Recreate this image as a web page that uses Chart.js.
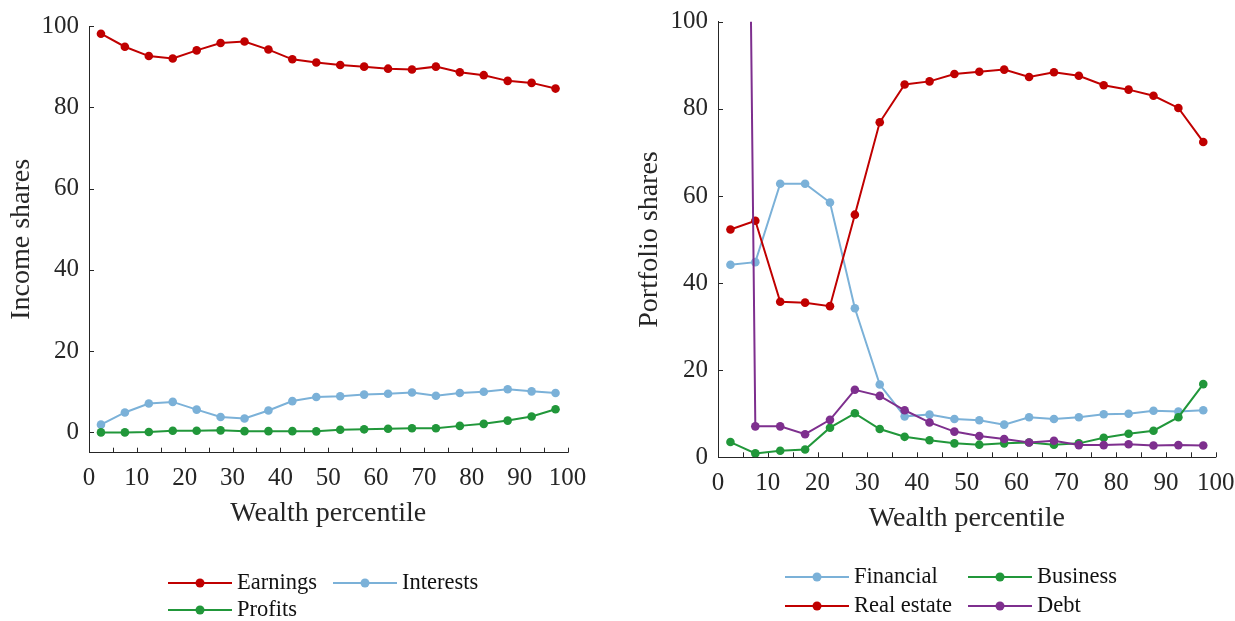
<!DOCTYPE html>
<html>
<head>
<meta charset="utf-8">
<script src="https://cdn.jsdelivr.net/npm/chart.js@4/dist/chart.umd.min.js"></script>
<style>
  html, body { margin: 0; padding: 0; background: #fff; }
  body { width: 1235px; height: 621px; position: relative; overflow: hidden;
         font-family: "Liberation Serif", "Times New Roman", serif; }
  canvas { position: absolute; left: 0; top: 0; }
  .item { position: absolute; white-space: nowrap; font-size: 22.5px; color: #111; line-height: 1; }
  .sw { position: absolute; height: 2px; }
  .sw i { position: absolute; left: 50%; top: 50%; width: 9px; height: 9px; border-radius: 50%;
          transform: translate(-50%, -50%); }
  .lbl { position: absolute; transform: translateY(-52%); }
</style>
</head>
<body>
<canvas id="income" width="1235" height="621"></canvas>
<canvas id="portfolio" width="1235" height="621"></canvas>
<div id="legends"></div>
<script>
// Wealth percentile bins (mid-points of 5% groups)
const percentiles = [2.5, 7.5, 12.5, 17.5, 22.5, 27.5, 32.5, 37.5, 42.5, 47.5,
                     52.5, 57.5, 62.5, 67.5, 72.5, 77.5, 82.5, 87.5, 92.5, 97.5];

// Income composition (%)
const earnings  = [98.1, 94.9, 92.6, 92.0, 94.0, 95.8, 96.2, 94.2, 91.8, 91.0,
                   90.4, 90.0, 89.5, 89.3, 90.0, 88.6, 87.9, 86.5, 86.0, 84.6];
const interests = [1.9, 4.9, 7.1, 7.5, 5.6, 3.8, 3.4, 5.4, 7.7, 8.7,
                   8.9, 9.3, 9.5, 9.8, 9.0, 9.7, 10.0, 10.6, 10.1, 9.7];
const profits   = [0.0, 0.0, 0.1, 0.4, 0.4, 0.5, 0.3, 0.3, 0.3, 0.25,
                   0.65, 0.75, 0.9, 1.0, 1.0, 1.6, 2.1, 2.9, 3.9, 5.7];

// Portfolio composition (%)
const financial  = [44.2, 44.8, 62.8, 62.8, 58.5, 34.2, 16.7, 9.4, 9.8, 8.8,
                    8.5, 7.5, 9.2, 8.8, 9.2, 9.9, 10.0, 10.7, 10.5, 10.8];
const realEstate = [52.3, 54.3, 35.7, 35.5, 34.7, 55.7, 76.9, 85.6, 86.3, 88.0,
                    88.5, 89.0, 87.3, 88.4, 87.6, 85.4, 84.4, 83.0, 80.2, 72.4];
const business   = [3.5, 0.9, 1.5, 1.8, 6.8, 10.1, 6.5, 4.7, 3.9, 3.2,
                    2.9, 3.2, 3.4, 2.9, 3.2, 4.5, 5.4, 6.1, 9.2, 16.8];
const debt       = [540, 7.1, 7.1, 5.3, 8.6, 15.5, 14.1, 10.8, 8.0, 5.9,
                    4.9, 4.2, 3.4, 3.8, 2.8, 2.8, 3.0, 2.7, 2.8, 2.7];

// Tick values
const xTicks = [0, 5, 10, 15, 20, 25, 30, 35, 40, 45, 50, 55, 60, 65, 70, 75, 80, 85, 90, 95, 100];
const yTicks = [0, 20, 40, 60, 80, 100];

const RED = '#c00000', BLUE = '#7bb1d8', GREEN = '#21973a', PURPLE = '#7e2f8e';
const AXIS = '#262626';
const FONT = '"Liberation Serif", "Times New Roman", serif';

const incomeSeries = [
  { label: 'Earnings',  data: earnings,  color: RED },
  { label: 'Interests', data: interests, color: BLUE },
  { label: 'Profits',   data: profits,   color: GREEN }
];
const portfolioSeries = [
  { label: 'Financial',   data: financial,  color: BLUE },
  { label: 'Business',    data: business,   color: GREEN },
  { label: 'Real estate', data: realEstate, color: RED },
  { label: 'Debt',        data: debt,       color: PURPLE }
];

// Short tick marks pointing into the plot area
const inwardTicks = {
  id: 'inwardTicks',
  beforeDatasetsDraw(chart) {
    const { ctx, chartArea, scales: { x, y } } = chart;
    const len = 5;
    ctx.save();
    ctx.strokeStyle = AXIS;
    ctx.lineWidth = 1;
    ctx.beginPath();
    x.ticks.forEach(t => {
      const px = Math.round(x.getPixelForValue(t.value)) + 0.5;
      ctx.moveTo(px, chartArea.bottom);
      ctx.lineTo(px, chartArea.bottom - len);
    });
    y.ticks.forEach(t => {
      const py = Math.round(y.getPixelForValue(t.value)) + 0.5;
      ctx.moveTo(chartArea.left, py);
      ctx.lineTo(chartArea.left + len, py);
    });
    ctx.stroke();
    ctx.restore();
  }
};

function makeChart(id, series, frame, yMin, yTitle) {
  const datasets = series.map((s, i) => ({
    label: s.label,
    data: percentiles.map((p, k) => ({ x: p, y: s.data[k] })),
    borderColor: s.color,
    backgroundColor: s.color,
    borderWidth: 2,
    pointRadius: 4.3,
    pointBorderWidth: 0,
    pointBackgroundColor: s.color,
    tension: 0,
    order: series.length - i
  }));
  return new Chart(document.getElementById(id), {
    type: 'line',
    data: { datasets },
    options: {
      responsive: false,
      animation: false,
      devicePixelRatio: 1,
      events: [],
      layout: { padding: frame.padding },
      plugins: { legend: { display: false }, tooltip: { enabled: false } },
      scales: {
        x: {
          type: 'linear', min: 0, max: 100,
          grid: { display: false, drawTicks: false },
          border: { display: true, color: AXIS, width: 1 },
          afterBuildTicks: s => { s.ticks = xTicks.map(v => ({ value: v })); },
          afterFit: s => { s.height = 78; s.paddingLeft = 0; s.paddingRight = 0; },
          ticks: {
            autoSkip: false, maxRotation: 0, padding: 11, color: AXIS,
            font: { family: FONT, size: 25 },
            callback: v => (v % 10 === 0 ? String(v) : '')
          },
          title: {
            display: true, text: 'Wealth percentile', color: AXIS,
            font: { family: FONT, size: 28 }, padding: { top: 0, bottom: 0 }
          }
        },
        y: {
          type: 'linear', min: yMin, max: 100,
          grid: { display: false, drawTicks: false },
          border: { display: true, color: AXIS, width: 1 },
          afterBuildTicks: s => { s.ticks = yTicks.map(v => ({ value: v })); },
          afterFit: s => { s.width = frame.yWidth; s.paddingTop = 0; s.paddingBottom = 0; },
          ticks: { padding: 10, color: AXIS, font: { family: FONT, size: 25 } },
          title: {
            display: true, text: yTitle, color: AXIS,
            font: { family: FONT, size: 28 }, padding: { top: frame.titlePad, bottom: 0 }
          }
        }
      }
    },
    plugins: [inwardTicks]
  });
}

makeChart('income', incomeSeries, {
  padding: { left: 0, top: 26, right: 667.5, bottom: 90.3 },
  yWidth: 89, titlePad: 5
}, -5, 'Income shares');

makeChart('portfolio', portfolioSeries, {
  padding: { left: 620, top: 21.7, right: 19.3, bottom: 85.7 },
  yWidth: 98, titlePad: 13
}, 0, 'Portfolio shares');

// Legends below each panel
const legendItems = [
  { s: incomeSeries[0],    x: 168, y: 583, tx: 237 },
  { s: incomeSeries[1],    x: 333, y: 583, tx: 402 },
  { s: incomeSeries[2],    x: 168, y: 610, tx: 237 },
  { s: portfolioSeries[0], x: 785, y: 577, tx: 854 },
  { s: portfolioSeries[1], x: 968, y: 577, tx: 1037 },
  { s: portfolioSeries[2], x: 785, y: 606, tx: 854 },
  { s: portfolioSeries[3], x: 968, y: 606, tx: 1037 }
];
const host = document.getElementById('legends');
legendItems.forEach(it => {
  const sw = document.createElement('div');
  sw.className = 'sw';
  sw.style.left = it.x + 'px';
  sw.style.top = (it.y - 1) + 'px';
  sw.style.width = '64px';
  sw.style.background = it.s.color;
  const dot = document.createElement('i');
  dot.style.background = it.s.color;
  sw.appendChild(dot);
  host.appendChild(sw);
  const t = document.createElement('div');
  t.className = 'item lbl';
  t.style.left = it.tx + 'px';
  t.style.top = it.y + 'px';
  t.textContent = it.s.label;
  host.appendChild(t);
});
</script>
</body>
</html>
